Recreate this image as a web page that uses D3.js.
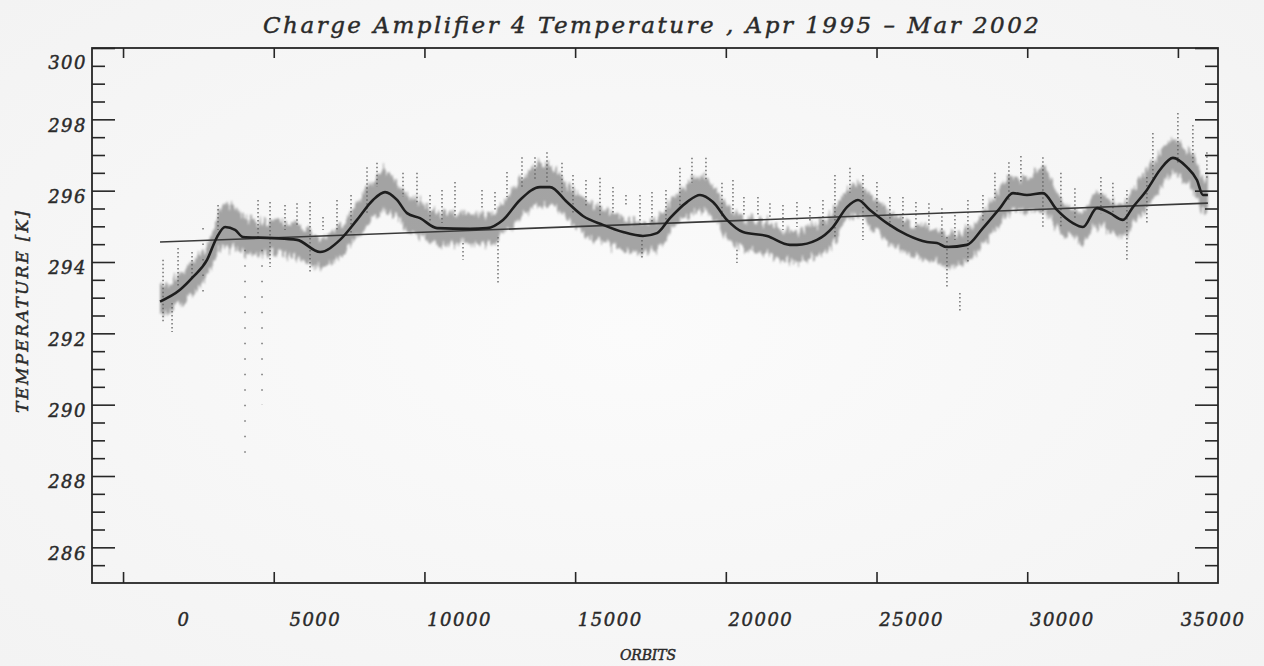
<!DOCTYPE html>
<html lang="en">
<head>
  <meta charset="utf-8">
  <title>Charge Amplifier 4 Temperature</title>
  <script src="https://d3js.org/d3.v7.min.js"></script>
  <style>
    body {
      margin: 0;
      background: #f6f6f6;
    }
    svg {
      display: block;
      background: radial-gradient(ellipse at center, #fbfbfb 0%, #f3f3f3 100%);
    }
    text {
      font-family: "DejaVu Serif", serif;
      font-style: italic;
      fill: #2a2a2a;
      stroke: #2a2a2a;
      stroke-width: 0.45px;
    }
    .frame {
      fill: none;
      stroke: #262626;
      stroke-width: 1.8px;
    }
    .axis path.domain { display: none; }
    .axis line { stroke: #262626; stroke-width: 1.6px; }
    .tick-label { font-size: 18px; letter-spacing: 1.5px; }
  </style>
</head>
<body>
  <div id="chart"></div>
  <script>
    // smoothed temperature curve (orbit, K)
    const smoothOrbits = [1227, 1891, 2322, 2787, 3118, 3384, 3716, 3981, 4976, 5773, 6536, 7199, 7763, 8294, 8692,
      9090, 9422, 9853, 10417, 11512, 12076, 12607, 13171, 13834, 14166, 14730, 15261, 15924, 16588, 17251, 17716,
      18147, 18711, 19142, 19573, 20038, 20569, 21365, 22128, 22360, 23024, 23555, 24019, 24384, 24782, 25346, 26010,
      26673, 27005, 27337, 28000, 28531, 29095, 29526, 29991, 30521, 30986, 31517, 31848, 32313, 32744, 33175, 33507,
      33971, 34403, 34834, 35298, 35630, 35829, 35995];
    const smoothTemps = [292.89, 293.22, 293.58, 294.06, 294.70, 294.98, 294.90, 294.70, 294.67, 294.62, 294.28, 294.62,
      295.18, 295.74, 295.96, 295.74, 295.37, 295.23, 294.95, 294.93, 294.95, 295.18, 295.74, 296.10, 296.10, 295.68,
      295.29, 295.04, 294.84, 294.73, 294.81, 295.23, 295.68, 295.88, 295.68, 295.18, 294.84, 294.73, 294.48, 294.48,
      294.62, 294.98, 295.54, 295.74, 295.46, 295.09, 294.76, 294.56, 294.53, 294.42, 294.48, 294.95, 295.51, 295.93,
      295.88, 295.93, 295.46, 295.09, 294.98, 295.51, 295.37, 295.18, 295.54, 296.02, 296.58, 296.92, 296.66, 296.30,
      295.88, 295.88];

    // spread of the raw readings around the curve (same orbits)
    const bandHigh = [293.3, 293.65, 294.05, 294.5, 295.3, 295.65, 295.55, 295.25, 295.1, 295.05, 294.7, 295.05, 295.65,
      296.3, 296.55, 296.25, 295.9, 295.7, 295.4, 295.35, 295.35, 295.65, 296.35, 296.75, 296.7, 296.2, 295.8, 295.5,
      295.25, 295.15, 295.25, 295.7, 296.2, 296.4, 296.15, 295.6, 295.25, 295.15, 294.9, 294.9, 295.05, 295.45, 296.05,
      296.2, 295.9, 295.5, 295.15, 295.0, 294.95, 294.85, 294.9, 295.4, 296.05, 296.4, 296.35, 296.7, 295.95, 295.45,
      295.4, 296.0, 295.75, 295.6, 296.05, 296.6, 297.1, 297.4, 297.15, 296.8, 296.35, 296.3];
    const bandLow = [292.45, 292.8, 293.1, 293.6, 294.2, 294.45, 294.35, 294.2, 294.2, 294.1, 293.85, 294.15, 294.7,
      295.25, 295.45, 295.25, 294.9, 294.75, 294.5, 294.5, 294.5, 294.7, 295.2, 295.6, 295.6, 295.2, 294.8, 294.55,
      294.35, 294.25, 294.35, 294.8, 295.25, 295.45, 295.25, 294.7, 294.35, 294.25, 294.0, 294.0, 294.15, 294.5, 295.1,
      295.3, 295.0, 294.6, 294.25, 294.05, 294.0, 293.85, 294.0, 294.5, 295.05, 295.45, 295.4, 295.4, 294.95, 294.6,
      294.5, 295.0, 294.9, 294.7, 295.05, 295.5, 296.05, 296.45, 296.2, 295.8, 295.4, 295.45];

    // isolated excursions (dotted vertical streaks)
    const spikeOrbits = [1327, 1626, 1825, 2289, 2654, 3152, 4047, 4479, 4611, 4877, 5374, 5772, 6204, 6635, 7099, 7564,
      8095, 8426, 9289, 9753, 10185, 10583, 11014, 11280, 11910, 12341, 12441, 12739, 13237, 13668, 14066, 14564, 14929,
      15360, 15825, 16256, 16687, 17152, 17218, 17550, 18014, 18478, 18877, 19341, 19872, 20237, 20369, 20601, 21066,
      21464, 21896, 22360, 22791, 23223, 23621, 24119, 24550, 25014, 25445, 25877, 26308, 26739, 27170, 27337, 27602,
      27767, 28033, 28531, 28929, 29393, 29791, 30521, 31118, 31583, 32445, 32843, 33308, 33971, 34170, 35000, 35497,
      35962];
    const spikeHigh = [294.06, 292.85, 294.39, 294.28, 294.95, 295.60, 294.34, 295.74, 294.34, 295.68, 295.60, 295.65,
      295.68, 295.26, 295.74, 295.88, 296.66, 296.78, 296.50, 296.50, 295.88, 296.02, 296.24, 294.53, 296.02, 295.96,
      294.70, 296.52, 296.94, 296.94, 297.08, 296.78, 296.44, 296.30, 296.36, 296.10, 295.88, 295.88, 294.62, 295.96,
      296.02, 296.64, 296.92, 296.92, 296.22, 296.30, 294.34, 295.82, 295.82, 295.65, 295.60, 295.68, 295.54, 295.74,
      296.44, 296.64, 296.44, 296.24, 295.82, 295.82, 295.68, 295.65, 295.51, 294.70, 295.32, 293.13, 295.74, 295.88,
      296.50, 296.80, 296.97, 296.94, 296.50, 296.07, 296.38, 296.22, 296.02, 296.38, 297.62, 298.18, 297.84, 297.08];
    const spikeLow = [292.32, 292.04, 293.30, 293.58, 292.94, 294.90, 288.31, 294.70, 289.99, 293.86, 294.90, 294.98,
      293.69, 294.90, 294.90, 294.81, 295.37, 296.10, 295.82, 295.65, 295.09, 295.09, 295.26, 294.06, 295.46, 295.46,
      293.41, 295.82, 296.10, 296.30, 296.22, 295.94, 295.37, 295.54, 295.26, 295.37, 295.54, 294.98, 294.06, 295.09,
      295.18, 295.46, 296.22, 296.30, 295.26, 295.37, 293.97, 295.26, 295.26, 295.18, 294.90, 294.98, 295.09, 294.98,
      294.70, 295.94, 294.62, 295.37, 294.98, 294.98, 294.98, 294.98, 294.70, 293.30, 294.62, 292.57, 293.97, 295.09,
      295.74, 295.74, 296.22, 294.98, 294.98, 295.18, 295.37, 295.37, 294.06, 295.09, 296.30, 296.78, 296.78, 296.30];

    // linear fit
    const trendOrbits = [1227, 35995];
    const trendTemps = [294.56, 295.65];

    const xTicks = [0, 5000, 10000, 15000, 20000, 25000, 30000, 35000];
    const yMajor = [286, 288, 290, 292, 294, 296, 298, 300];
    const yMinor = d3.range(285.5, 300, 0.5).filter(v => !yMajor.includes(v));

    const width = 1264, height = 666;
    const svg = d3.select("#chart").append("svg")
      .attr("width", width).attr("height", height);

    const x = d3.scaleLinear().domain([-1030, 36330]).range([92, 1218]);
    const y = d3.scaleLinear().domain([285, 300]).range([583, 48]);

    // scanned-noise look for the raw band: jitter columns vertically, then soften
    const defs = svg.append("defs");
    const noisy = defs.append("filter").attr("id", "noisy")
      .attr("x", "-5%").attr("y", "-40%").attr("width", "110%").attr("height", "180%");
    noisy.append("feTurbulence")
      .attr("type", "fractalNoise").attr("baseFrequency", "0.45 0.015")
      .attr("numOctaves", 2).attr("seed", 3).attr("result", "turb");
    noisy.append("feColorMatrix").attr("in", "turb").attr("type", "matrix")
      .attr("values", "0 0 0 0 0.5  0 1 0 0 0  0 0 1 0 0  0 0 0 0 1").attr("result", "yonly");
    noisy.append("feDisplacementMap").attr("in", "SourceGraphic").attr("in2", "yonly")
      .attr("scale", 22).attr("xChannelSelector", "R").attr("yChannelSelector", "G").attr("result", "disp");
    noisy.append("feGaussianBlur").attr("in", "disp").attr("stdDeviation", 0.9);

    const pts = smoothOrbits.map((o, i) => ({o, t: smoothTemps[i], hi: bandHigh[i], lo: bandLow[i]}));

    // noisy band
    svg.append("path")
      .datum(pts)
      .attr("d", d3.area().x(d => x(d.o)).y0(d => y(d.lo)).y1(d => y(d.hi)).curve(d3.curveMonotoneX))
      .attr("fill", "#8f8f8f")
      .attr("opacity", 0.8)
      .attr("filter", "url(#noisy)");

    // dotted excursions, long ones are sparse single points in the source
    svg.append("g").selectAll("line")
      .data(spikeOrbits.map((o, i) => ({o, hi: spikeHigh[i], lo: spikeLow[i]})))
      .join("line")
      .attr("x1", d => x(d.o)).attr("x2", d => x(d.o))
      .attr("y1", d => y(d.hi)).attr("y2", d => y(d.lo))
      .attr("stroke", "#5e5e5e")
      .attr("stroke-width", 1.3)
      .attr("stroke-dasharray", d => d.hi - d.lo > 2 ? "1.5,14" : "1.5,2.5");

    // linear trend
    svg.append("path")
      .datum(trendOrbits.map((o, i) => ({o, t: trendTemps[i]})))
      .attr("d", d3.line().x(d => x(d.o)).y(d => y(d.t)))
      .attr("fill", "none")
      .attr("stroke", "#3a3a3a")
      .attr("stroke-width", 1.6);

    // smoothed curve
    svg.append("path")
      .datum(pts)
      .attr("d", d3.line().x(d => x(d.o)).y(d => y(d.t)).curve(d3.curveMonotoneX))
      .attr("fill", "none")
      .attr("stroke", "#1e1e1e")
      .attr("stroke-width", 2.6)
      .attr("stroke-linejoin", "round");

    // axes
    svg.append("g").attr("class", "axis")
      .attr("transform", "translate(0,583)")
      .call(d3.axisBottom(x).tickValues(xTicks).tickSize(-11).tickPadding(30).tickFormat(d3.format("d")))
      .call(g => g.selectAll("text")
        .attr("class", "tick-label")
        .attr("text-anchor", "end")
        .attr("dx", 67));

    svg.append("g").attr("class", "axis")
      .attr("transform", "translate(0,48)")
      .call(d3.axisTop(x).tickValues(xTicks).tickSize(-10).tickFormat(""));

    svg.append("g").attr("class", "axis")
      .attr("transform", "translate(92,0)")
      .call(d3.axisLeft(y).tickValues(yMajor).tickSize(-23).tickPadding(5).tickFormat(d3.format("d")))
      .call(g => g.selectAll("text")
        .attr("class", "tick-label")
        .attr("y", d => d === 300 ? 15 : 6));

    svg.append("g").attr("class", "axis")
      .attr("transform", "translate(92,0)")
      .call(d3.axisLeft(y).tickValues(yMinor).tickSize(-13).tickFormat(""));

    svg.append("g").attr("class", "axis")
      .attr("transform", "translate(1218,0)")
      .call(d3.axisRight(y).tickValues(yMajor).tickSize(-23).tickFormat(""));

    svg.append("g").attr("class", "axis")
      .attr("transform", "translate(1218,0)")
      .call(d3.axisRight(y).tickValues(yMinor).tickSize(-13).tickFormat(""));

    svg.selectAll(".axis text").attr("font-family", null).attr("font-size", null).attr("fill", null);

    // frame
    svg.append("rect").attr("class", "frame")
      .attr("x", x.range()[0]).attr("y", y.range()[1])
      .attr("width", x.range()[1] - x.range()[0])
      .attr("height", y.range()[0] - y.range()[1]);

    // titles
    svg.append("text")
      .attr("x", 651).attr("y", 33)
      .attr("text-anchor", "middle")
      .attr("font-size", 23)
      .attr("textLength", 776).attr("lengthAdjust", "spacing")
      .text("Charge Amplifier 4 Temperature , Apr 1995 \u2013 Mar 2002");

    svg.append("text")
      .attr("transform", "translate(28,312) rotate(-90)")
      .attr("text-anchor", "middle")
      .attr("font-size", 17)
      .attr("textLength", 202).attr("lengthAdjust", "spacing")
      .text("TEMPERATURE [K]");

    svg.append("text")
      .attr("x", 648).attr("y", 660)
      .attr("text-anchor", "middle")
      .attr("font-size", 14)
      .attr("textLength", 56).attr("lengthAdjust", "spacing")
      .text("ORBITS");
  </script>
</body>
</html>
